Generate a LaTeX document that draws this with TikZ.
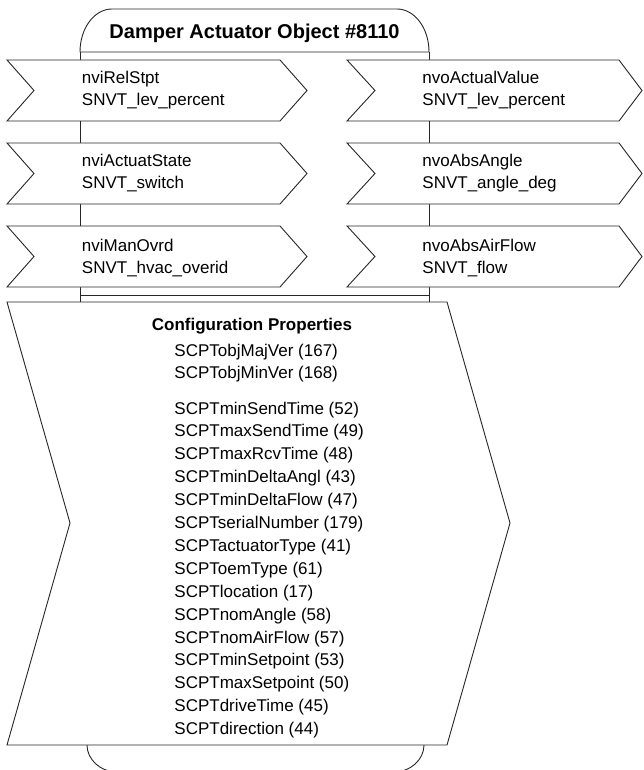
\documentclass[tikz,border=0pt]{standalone}
\usepackage{fontspec}
\setmainfont{Liberation Sans}
\begin{document}
\begin{tikzpicture}[x=1pt,y=-1pt,line width=0.9pt,
  lbl/.style={anchor=base west,inner sep=0pt,font=\fontsize{17}{20}\selectfont},
  ttl/.style={anchor=base,inner sep=0pt,font=\fontsize{20}{24}\selectfont\bfseries},
  hdr/.style={anchor=base,inner sep=0pt,font=\fontsize{17}{20}\selectfont\bfseries},
  shp/.style={draw=black!85,fill=white,line join=miter},
  ln/.style={draw=black!85}]
\useasboundingbox (0,0) rectangle (643,770);
\clip (0,0) rectangle (643,770);
% body sides
\draw[ln] (80,52) -- (80,302) (429,52) -- (429,302);
% title cap
\draw[shp] (80,52) .. controls (80,28.25) and (94.3,9) .. (112,9) -- (397,9)
  .. controls (414.7,9) and (429,28.25) .. (429,52) -- cycle;
% bottom cap
\draw[ln] (87,745) .. controls (87,759.4) and (100.4,772) .. (117,772) -- (394,772)
  .. controls (410.6,772) and (424,759.4) .. (424,745);
% double line
\draw[ln] (80,295) -- (429,295);
% configuration chevron
\draw[shp] (7,302) -- (447,302) -- (510,523) -- (447,745) -- (7,745) -- (70,523) -- cycle;
% network variable chevrons
\foreach \t/\b in {60/121,143/204,226/287}{
  \pgfmathsetmacro\m{(\t+\b)/2}
  \draw[shp] (7,\t) -- (280,\t) -- (307,\m) -- (280,\b) -- (7,\b) -- (34,\m) -- cycle;
  \draw[shp] (347,\t) -- (619,\t) -- (642,\m) -- (619,\b) -- (347,\b) -- (375,\m) -- cycle;
}
% texts
\node[ttl] (title) at (254.5,39) {Damper Actuator Object \#8110};
\node[lbl] (i1a) at (81.5,84) {nviRelStpt};
\node[lbl] (i1b) at (81.5,106) {SNVT\_lev\_percent};
\node[lbl] (i2a) at (81.5,167) {nviActuatState};
\node[lbl] (i2b) at (81.5,189) {SNVT\_switch};
\node[lbl] (i3a) at (81.5,251) {nviManOvrd};
\node[lbl] (i3b) at (81.5,273) {SNVT\_hvac\_overid};
\node[lbl] (o1a) at (422,84) {nvoActualValue};
\node[lbl] (o1b) at (422,106) {SNVT\_lev\_percent};
\node[lbl] (o2a) at (422,167) {nvoAbsAngle};
\node[lbl] (o2b) at (422,189) {SNVT\_angle\_deg};
\node[lbl] (o3a) at (422,251) {nvoAbsAirFlow};
\node[lbl] (o3b) at (422,273) {SNVT\_flow};
\node[hdr] (cfg) at (252,330) {Configuration Properties};
\node[lbl] (p1) at (174,356) {SCPTobjMajVer (167)};
\node[lbl] (p2) at (174,378.5) {SCPTobjMinVer (168)};
\foreach \txt [count=\k from 0] in {SCPTminSendTime (52),SCPTmaxSendTime (49),
  SCPTmaxRcvTime (48),SCPTminDeltaAngl (43),SCPTminDeltaFlow (47),
  SCPTserialNumber (179),SCPTactuatorType (41),SCPToemType (61),
  SCPTlocation (17),SCPTnomAngle (58),SCPTnomAirFlow (57),
  SCPTminSetpoint (53),SCPTmaxSetpoint (50),SCPTdriveTime (45),
  SCPTdirection (44)}{
  \node[lbl] (q\k) at (174,{414+22.9*\k}) {\txt};
}
\end{tikzpicture}
\end{document}
